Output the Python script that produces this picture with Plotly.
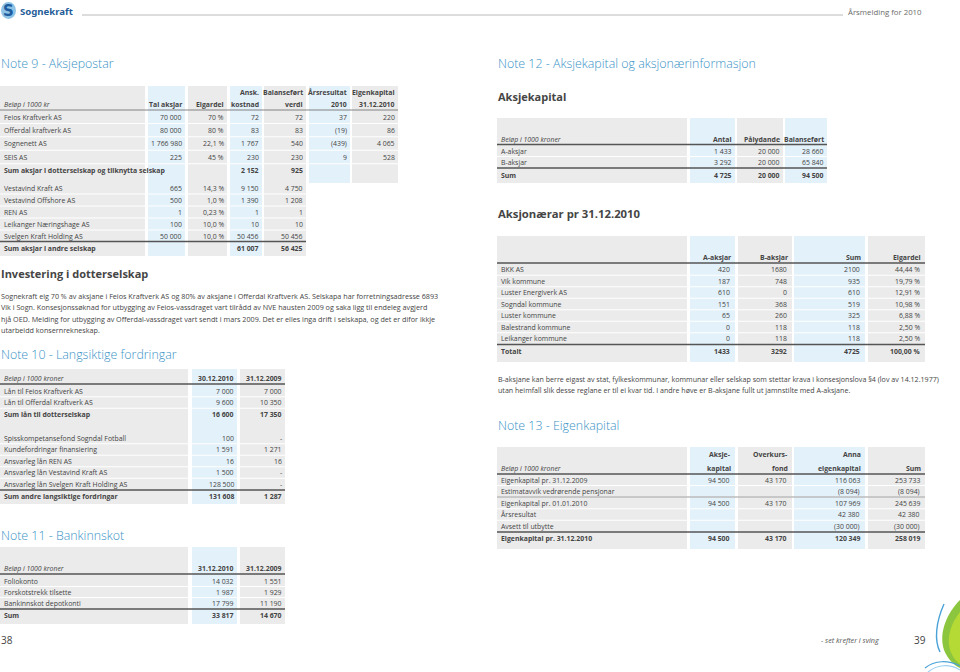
import plotly.graph_objects as go

# ---------------- DATA ----------------
brand_name = "Sognekraft"
report_name = "Årsmelding for 2010"
page_left_no = "38"
page_right_no = "39"
slogan = "- set krefter i sving"

# Note 9
n9_title = "Note 9 - Aksjepostar"
n9_unit = "Beløp i 1000 kr"
n9_headers = [["", "Tal aksjar"], ["", "Eigardel"], ["Ansk.", "kostnad"],
              ["Balanseført", "verdi"], ["Årsresultat", "2010"], ["Eigenkapital", "31.12.2010"]]
n9_sub_names = ["Feios Kraftverk AS", "Offerdal kraftverk AS", "Sognenett AS", "SEIS AS"]
n9_sub_shares = [70000, 80000, 1766980, 225]
n9_sub_owner = ["70 %", "80 %", "22,1 %", "45 %"]
n9_sub_cost = [72, 83, 1767, 230]
n9_sub_book = [72, 83, 540, 230]
n9_sub_result = [37, -19, -439, 9]
n9_sub_equity = [220, 86, 4065, 528]
n9_sub_sum_label = "Sum aksjar i dotterselskap og tilknytta selskap"
n9_sub_sum = [2152, 925]
n9_oth_names = ["Vestavind Kraft AS", "Vestavind Offshore AS", "REN AS",
                "Leikanger Næringshage AS", "Svelgen Kraft Holding AS"]
n9_oth_shares = [665, 500, 1, 100, 50000]
n9_oth_owner = ["14,3 %", "1,0 %", "0,23 %", "10,0 %", "10,0 %"]
n9_oth_cost = [9150, 1390, 1, 10, 50456]
n9_oth_book = [4750, 1208, 1, 10, 50456]
n9_oth_sum_label = "Sum aksjar i andre selskap"
n9_oth_sum = [61007, 56425]

inv_title = "Investering i dotterselskap"
inv_lines = [
    "Sognekraft eig 70 % av aksjane i Feios Kraftverk AS og 80% av aksjane i Offerdal Kraftverk AS. Selskapa har forretningsadresse 6893",
    "Vik i Sogn. Konsesjonssøknad for utbygging av Feios-vassdraget vart tilrådd av NVE hausten 2009 og saka ligg til endeleg avgjerd",
    "hjå OED. Melding for utbygging av Offerdal-vassdraget vart sendt i mars 2009. Det er elles inga drift i selskapa, og det er difor ikkje",
    "utarbeidd konsernrekneskap.",
]

# Note 10
n10_title = "Note 10 - Langsiktige fordringar"
n10_unit = "Beløp i 1000 kroner"
n10_headers = ["30.12.2010", "31.12.2009"]
n10_sub_names = ["Lån til Feios Kraftverk AS", "Lån til Offerdal Kraftverk AS"]
n10_sub_2010 = [7000, 9600]
n10_sub_2009 = [7000, 10350]
n10_sub_sum_label = "Sum lån til dotterselskap"
n10_sub_sum = [16600, 17350]
n10_oth_names = ["Spisskompetansefond Sogndal Fotball", "Kundefordringar finansiering",
                 "Ansvarleg lån REN AS", "Ansvarleg lån Vestavind Kraft AS",
                 "Ansvarleg lån Svelgen Kraft Holding AS"]
n10_oth_2010 = [100, 1591, 16, 1500, 128500]
n10_oth_2009 = [None, 1271, 16, None, None]
n10_oth_sum_label = "Sum andre langsiktige fordringar"
n10_oth_sum = [131608, 1287]

# Note 11
n11_title = "Note 11 - Bankinnskot"
n11_unit = "Beløp i 1000 kroner"
n11_headers = ["31.12.2010", "31.12.2009"]
n11_names = ["Foliokonto", "Forskotstrekk tilsette", "Bankinnskot depotkonti"]
n11_2010 = [14032, 1987, 17799]
n11_2009 = [1551, 1929, 11190]
n11_sum_label = "Sum"
n11_sum = [33817, 14670]

# Note 12
n12_title = "Note 12 - Aksjekapital og aksjonærinformasjon"
ak_title = "Aksjekapital"
ak_unit = "Beløp i 1000 kroner"
ak_headers = ["Antal", "Pålydande", "Balanseført"]
ak_names = ["A-aksjar", "B-aksjar"]
ak_count = [1433, 3292]
ak_face = [20000, 20000]
ak_book = [28660, 65840]
ak_sum_label = "Sum"
ak_sum = [4725, 20000, 94500]

sh_title = "Aksjonærar pr 31.12.2010"
sh_headers = ["A-aksjar", "B-aksjar", "Sum", "Eigardel"]
sh_names = ["BKK AS", "Vik kommune", "Luster Energiverk AS", "Sogndal kommune",
            "Luster kommune", "Balestrand kommune", "Leikanger kommune"]
sh_a = [420, 187, 610, 151, 65, 0, 0]
sh_b = [1680, 748, 0, 368, 260, 118, 118]
sh_sum = [2100, 935, 610, 519, 325, 118, 118]
sh_pct = ["44,44 %", "19,79 %", "12,91 %", "10,98 %", "6,88 %", "2,50 %", "2,50 %"]
sh_total_label = "Totalt"
sh_total = ["1433", "3292", "4725", "100,00 %"]
sh_note = [
    "B-aksjane kan berre eigast av stat, fylkeskommunar, kommunar eller selskap som stettar krava i konsesjonslova §4 (lov av 14.12.1977)",
    "utan heimfall slik desse reglane er til ei kvar tid. I andre høve er B-aksjane fullt ut jamnstilte med A-aksjane.",
]

# Note 13
n13_title = "Note 13 - Eigenkapital"
n13_unit = "Beløp i 1000 kroner"
n13_headers = [["Aksje-", "kapital"], ["Overkurs-", "fond"], ["Anna", "eigenkapital"], ["", "Sum"]]
n13_names = ["Eigenkapital pr. 31.12.2009", "Estimatavvik vedrørende pensjonar",
             "Eigenkapital pr. 01.01.2010", "Årsresultat", "Avsett til utbytte"]
n13_share = [94500, None, 94500, None, None]
n13_premium = [43170, None, 43170, None, None]
n13_other = [116063, -8094, 107969, 42380, -30000]
n13_total = [253733, -8094, 245639, 42380, -30000]
n13_end_label = "Eigenkapital pr. 31.12.2010"
n13_end = [94500, 43170, 120349, 258019]

# ---------------- STYLE ----------------
GREY = "#ebebeb"
BLUE = "#e3f1fa"
TXT = "#444444"
TITLE = "#3a93c6"
DARK = "#555555"
BODY = "Open Sans, Noto Sans, sans-serif"
TS = 6.9      # table font size
PS = 7.2      # paragraph font size

ann = []
shapes = []


def fmt(v, sep=" ", dash=""):
    if v is None:
        return dash
    if isinstance(v, str):
        return v
    s = f"{abs(v):,}".replace(",", sep)
    return f"({s})" if v < 0 else s


def text(x, y, s, size=TS, color=TXT, bold=False, italic=False, anchor="left", family=BODY, weight=None):
    if bold:
        s = f"<b>{s}</b>"
    if italic:
        s = f"<i>{s}</i>"
    f = dict(size=size, color=color, family=family)
    if weight:
        f["weight"] = weight
    ann.append(dict(x=x, y=y, xref="x", yref="y", text=s, showarrow=False,
                    xanchor=anchor, yanchor="middle", font=f, borderpad=0))


def rect(x0, y0, x1, y1, fill):
    shapes.append(dict(type="rect", xref="x", yref="y", x0=x0, y0=y0, x1=x1, y1=y1,
                       fillcolor=fill, line=dict(width=0), layer="below"))


def hline(x0, x1, y, color, w=1.0):
    shapes.append(dict(type="line", xref="x", yref="y", x0=x0, x1=x1, y0=y, y1=y,
                       line=dict(color=color, width=w), layer="below"))


def panel(cols, top, bottom, bottoms=None):
    for i, (l, r) in enumerate(cols):
        b = bottoms[i] if bottoms else bottom
        rect(l, top, r, b, GREY if i % 2 == 0 else BLUE)


def row(cols, y, label, values, bold=False, pad=2.5):
    text(cols[0][0] + 3, y, label, bold=bold)
    for (l, r), v in zip(cols[1:], values):
        text(r - pad, y, v, bold=bold, anchor="right")


def seps(cols, ys, upto=None):
    x1 = cols[-1][1] if upto is None else upto
    for a, b in zip(ys[:-1], ys[1:]):
        hline(cols[0][0], x1, (a + b) / 2, "white", 1)


def title(x, y, s):
    text(x, y, s, size=12.4, color=TITLE, weight=300)


# ---------------- PAGE HEADER ----------------
shapes.append(dict(type="circle", xref="x", yref="y", x0=1, y0=2, x1=16, y1=19,
                   fillcolor="#8fc3e6", line=dict(width=0)))
text(8.5, 11, "S", size=15, color="#1d5c9e", bold=True, anchor="center", family="DejaVu Sans")
text(19, 11, brand_name, size=9.6, color="#1f5d99", bold=True, family="Noto Sans")
hline(82, 843, 15, "#a8a8a8", 0.8)
text(847, 12, report_name, size=7.8, color="#6a6a6a")

# ---------------- NOTE 9 ----------------
title(0, 63, n9_title)
c9 = [(0, 145), (148, 185), (188, 227), (230, 262), (264, 306), (309, 350), (352, 398)]
panel(c9, 86, 256, bottoms=[256, 256, 256, 256, 256, 183, 183])
for (l, r), (h1, h2) in zip(c9[1:], n9_headers):
    if h1:
        text(r - 2, 92, h1, bold=True, anchor="right")
    text(r - 2, 104, h2, bold=True, anchor="right")
text(3, 104, n9_unit, italic=True)
hline(0, 398, 110, "#777777", 0.9)
y_sub = [117, 130, 143.5, 157, 170.5]
seps(c9, y_sub)
for i, name in enumerate(n9_sub_names):
    row(c9, y_sub[i], name, [fmt(n9_sub_shares[i]), n9_sub_owner[i], fmt(n9_sub_cost[i]),
                             fmt(n9_sub_book[i]), fmt(n9_sub_result[i]), fmt(n9_sub_equity[i])])
row(c9, y_sub[4], n9_sub_sum_label, ["", "", fmt(n9_sub_sum[0]), fmt(n9_sub_sum[1])], bold=True)
y_oth = [188, 200, 212, 224, 236, 248]
seps(c9, y_oth[:-1], upto=306)
hline(0, 306, 241.5, DARK, 1.3)
for i, name in enumerate(n9_oth_names):
    row(c9, y_oth[i], name, [fmt(n9_oth_shares[i]), n9_oth_owner[i], fmt(n9_oth_cost[i]),
                             fmt(n9_oth_book[i])])
row(c9, y_oth[5], n9_oth_sum_label, ["", "", fmt(n9_oth_sum[0]), fmt(n9_oth_sum[1])], bold=True)

# Investering
text(0, 273, inv_title, size=11, color="#454545", bold=True)
for i, line in enumerate(inv_lines):
    text(0, 296 + i * 11.3, line, size=PS)

# ---------------- NOTE 10 ----------------
title(0, 354, n10_title)
c10 = [(0, 188), (192, 237), (240, 285)]
panel(c10, 369, 504)
text(3, 378, n10_unit, italic=True)
for (l, r), h in zip(c10[1:], n10_headers):
    text(r - 2, 378, h, bold=True, anchor="right")
hline(0, 285, 384, DARK, 1.3)
y10a = [391, 402.5, 414]
seps(c10, y10a)
for i, name in enumerate(n10_sub_names):
    row(c10, y10a[i], name, [fmt(n10_sub_2010[i]), fmt(n10_sub_2009[i])])
row(c10, y10a[2], n10_sub_sum_label, [fmt(v) for v in n10_sub_sum], bold=True)
y10b = [438, 449.5, 461, 472.5, 484, 496.5]
seps(c10, y10b[:-1])
hline(0, 285, 490, DARK, 1.3)
for i, name in enumerate(n10_oth_names):
    row(c10, y10b[i], name, [fmt(n10_oth_2010[i]), fmt(n10_oth_2009[i], dash="-")])
row(c10, y10b[5], n10_oth_sum_label, [fmt(v) for v in n10_oth_sum], bold=True)

# ---------------- NOTE 11 ----------------
title(0, 535, n11_title)
panel(c10, 547, 624)
text(3, 568, n11_unit, italic=True)
for (l, r), h in zip(c10[1:], n11_headers):
    text(r - 2, 568, h, bold=True, anchor="right")
hline(0, 285, 574, DARK, 1.3)
y11 = [581, 592, 603, 615.5]
seps(c10, y11[:-1])
hline(0, 285, 609, DARK, 1.3)
for i, name in enumerate(n11_names):
    row(c10, y11[i], name, [fmt(n11_2010[i]), fmt(n11_2009[i])])
row(c10, y11[3], n11_sum_label, [fmt(v) for v in n11_sum], bold=True)

text(0, 640, page_left_no, size=10, color="#444")

# ---------------- NOTE 12 ----------------
X0 = 497
title(X0, 63, n12_title)
text(X0, 96, ak_title, size=11, color="#454545", bold=True)
c12 = [(X0, 687), (690, 735), (737, 783), (785, 827)]
panel(c12, 118, 183)
text(X0 + 3, 139, ak_unit, italic=True)
for (l, r), h in zip(c12[1:], ak_headers):
    text(r - 2, 139, h, bold=True, anchor="right")
hline(X0, 827, 144.5, DARK, 1.3)
y12 = [151, 162, 175]
seps(c12, y12[:-1])
hline(X0, 827, 168, DARK, 1.3)
for i, name in enumerate(ak_names):
    row(c12, y12[i], name, [fmt(ak_count[i]), fmt(ak_face[i]), fmt(ak_book[i])])
row(c12, y12[2], ak_sum_label, [fmt(v) for v in ak_sum], bold=True)

text(X0, 213, sh_title, size=11.3, color="#454545", bold=True)
c_sh = [(X0, 687), (690, 735), (738, 792), (794, 865), (868, 925)]
panel(c_sh, 236, 362)
for (l, r), h in zip(c_sh[1:], sh_headers):
    text(r - 3, 257, h, bold=True, anchor="right")
hline(X0, 925, 263, DARK, 1.3)
ysh = [269.5, 281, 292.5, 304, 315.5, 327, 338.5, 351]
seps(c_sh, ysh[:-1])
hline(X0, 925, 344.5, DARK, 1.3)
for i, name in enumerate(sh_names):
    row(c_sh, ysh[i], name, [str(sh_a[i]), str(sh_b[i]), str(sh_sum[i]), sh_pct[i]], pad=4)
row(c_sh, ysh[7], sh_total_label, sh_total, bold=True, pad=4)

for i, line in enumerate(sh_note):
    text(X0, 379 + i * 11, line, size=7.1)

# ---------------- NOTE 13 ----------------
title(X0, 425, n13_title)
panel(c_sh, 447, 549)
text(X0 + 3, 468, n13_unit, italic=True)
for (l, r), (h1, h2) in zip(c_sh[1:], n13_headers):
    if h1:
        text(r - 3, 454, h1, bold=True, anchor="right")
    text(r - 3, 468, h2, bold=True, anchor="right")
hline(X0, 925, 474, DARK, 1.3)
y13 = [480, 491, 503, 514.5, 526, 538.5]
seps(c_sh, y13[:-1])
hline(X0, 925, 497, "#9a9a9a", 1)
hline(X0, 925, 532, DARK, 1.3)
for i, name in enumerate(n13_names):
    row(c_sh, y13[i], name, [fmt(n13_share[i]), fmt(n13_premium[i]), fmt(n13_other[i]),
                             fmt(n13_total[i])], pad=4)
row(c_sh, y13[5], n13_end_label, [fmt(v) for v in n13_end], bold=True, pad=4)

# ---------------- FOOTER ----------------
text(880, 640, slogan, size=7.2, color="#555", italic=True, anchor="right")
text(913, 640, page_right_no, size=10, color="#444")
shapes.append(dict(type="path", xref="x", yref="y",
                   path="M 960,600 C 948,612 938,632 944,650 C 948,660 955,666 960,668 Z",
                   fillcolor="#8cc63f", line=dict(width=0)))
shapes.append(dict(type="path", xref="x", yref="y",
                   path="M 960,612 C 952,622 946,636 950,650 C 953,658 957,662 960,664 Z",
                   fillcolor="#b5d935", line=dict(width=0)))
shapes.append(dict(type="path", xref="x", yref="y",
                   path="M 944,604 C 936,622 934,640 940,652", line=dict(color="#4aa3d8", width=1.4)))
shapes.append(dict(type="path", xref="x", yref="y",
                   path="M 925,668 C 935,660 948,660 960,666", line=dict(color="#4aa3d8", width=1.2)))
shapes.append(dict(type="path", xref="x", yref="y",
                   path="M 928,672 C 938,664 950,664 960,670", line=dict(color="#9fd1ef", width=1.2)))

fig = go.Figure()
fig.add_trace(go.Scatter(x=[0, 960], y=[0, 672], mode="markers", marker=dict(opacity=0),
                         hoverinfo="skip", showlegend=False))
fig.update_layout(
    width=960, height=672, margin=dict(l=0, r=0, t=0, b=0),
    paper_bgcolor="white", plot_bgcolor="white",
    xaxis=dict(range=[0, 960], visible=False, fixedrange=True),
    yaxis=dict(range=[672, 0], visible=False, fixedrange=True),
    annotations=ann, shapes=shapes, showlegend=False,
)
fig.write_html("out.html", config={"displayModeBar": False},
               post_script="document.body.style.margin='0';document.body.style.overflow='hidden';")
